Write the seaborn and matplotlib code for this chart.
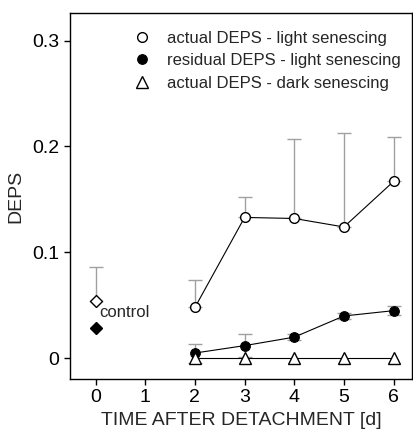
import numpy as np
import pandas as pd
import matplotlib
matplotlib.use("Agg")
import matplotlib.pyplot as plt
import seaborn as sns

days = [2, 3, 4, 5, 6]
actual_light = [0.048, 0.133, 0.132, 0.124, 0.167]
actual_light_err = [0.026, 0.019, 0.075, 0.089, 0.042]
residual_light = [0.005, 0.012, 0.020, 0.040, 0.045]
residual_light_err = [0.009, 0.011, 0.003, 0.003, 0.004]
actual_dark = [0.0, 0.0, 0.0, 0.0, 0.0]
control_x = [0]
control_actual = [0.0545]
control_actual_err = [0.032]
control_residual = [0.029]
labels = ["actual DEPS - light senescing", "residual DEPS - light senescing",
          "actual DEPS - dark senescing"]

sns.set_style("ticks")
plt.rcParams['font.family'] = ['Liberation Sans', 'DejaVu Sans']

fig = plt.figure(figsize=(4.13, 4.32), dpi=100)
ax = fig.add_axes([0.1695, 0.1227, 0.828, 0.8473])

gray = "#a0a0a0"
# error bars
ax.errorbar(days, actual_light, yerr=[np.zeros(5), actual_light_err], fmt="none",
            ecolor=gray, elinewidth=1, capsize=5, capthick=1, zorder=1)
ax.errorbar(days, residual_light, yerr=residual_light_err, fmt="none",
            ecolor=gray, elinewidth=1, capsize=5, capthick=1, zorder=1)
ax.errorbar(control_x, control_actual, yerr=[[0], control_actual_err], fmt="none",
            ecolor=gray, elinewidth=1, capsize=5, capthick=1, zorder=1)

df = pd.DataFrame({"day": days, "a": actual_light, "r": residual_light, "d": actual_dark})
sns.lineplot(data=df, x="day", y="a", ax=ax, color="black", lw=0.8, zorder=2,
             marker="o", markersize=7, markerfacecolor="white", markeredgecolor="black",
             markeredgewidth=1, label=labels[0])
sns.lineplot(data=df, x="day", y="r", ax=ax, color="black", lw=0.8, zorder=2,
             marker="o", markersize=7, markerfacecolor="black", markeredgecolor="black",
             label=labels[1])
sns.lineplot(data=df, x="day", y="d", ax=ax, color="black", lw=0.8, zorder=2,
             marker="^", markersize=8, markerfacecolor="white", markeredgecolor="black",
             markeredgewidth=1, label=labels[2])

ax.plot(control_x, control_actual, marker="D", ms=6, mfc="white", mec="black", mew=1,
        ls="none", zorder=3)
ax.plot(control_x, control_residual, marker="D", ms=6, mfc="black", mec="black",
        ls="none", zorder=3)
ax.text(0.07, 0.0435, "control", fontsize=12, ha="left", va="center")

ax.set_xlim(-0.515, 6.37)
ax.set_ylim(-0.0195, 0.326)
ax.set_xticks(range(7))
ax.set_yticks([0, 0.1, 0.2, 0.3])
ax.set_yticklabels(["0", "0.1", "0.2", "0.3"])
ax.tick_params(labelsize=14, direction="out", length=4, width=1, colors="black")
ax.set_xlabel("TIME AFTER DETACHMENT [d]", fontsize=14, labelpad=4)
ax.set_ylabel("DEPS", fontsize=14, labelpad=6)
for s in ax.spines.values():
    s.set_visible(True)
    s.set_linewidth(1)
    s.set_color("black")

leg = ax.legend(loc="upper left", bbox_to_anchor=(0.19, 0.97), frameon=False,
                fontsize=12, handlelength=0, handletextpad=1.5, labelspacing=0.45,
                borderaxespad=0.0)
for h in leg.legend_handles:
    h.set_linestyle("none")

fig.savefig("out.png", dpi=100)
